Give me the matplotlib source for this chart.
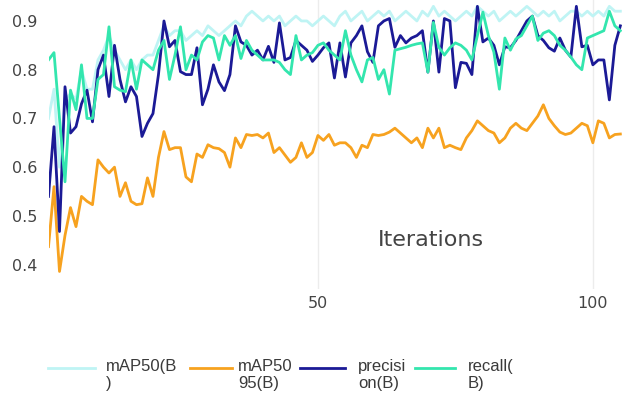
import numpy as np
import matplotlib.pyplot as plt
from matplotlib.lines import Line2D

# training metrics per iteration
iterations = np.arange(1, 106)

map50 = [0.70, 0.76, 0.60, 0.74, 0.75, 0.74, 0.80, 0.76, 0.76, 0.82,
         0.84, 0.87, 0.84, 0.82, 0.80, 0.82, 0.80, 0.82, 0.83, 0.83,
         0.86, 0.89, 0.87, 0.88, 0.88, 0.86, 0.87, 0.88, 0.87, 0.89,
         0.88, 0.87, 0.88, 0.89, 0.90, 0.89, 0.91, 0.92, 0.91, 0.90,
         0.91, 0.90, 0.91, 0.89, 0.90, 0.91, 0.90, 0.90, 0.89, 0.90,
         0.91, 0.90, 0.89, 0.91, 0.92, 0.90, 0.91, 0.92, 0.90, 0.91,
         0.92, 0.91, 0.92, 0.90, 0.91, 0.92, 0.91, 0.90, 0.92, 0.91,
         0.93, 0.91, 0.92, 0.91, 0.90, 0.91, 0.92, 0.91, 0.93, 0.92,
         0.91, 0.92, 0.90, 0.91, 0.92, 0.91, 0.92, 0.93, 0.92, 0.91,
         0.92, 0.91, 0.92, 0.90, 0.91, 0.92, 0.92, 0.91, 0.92, 0.91,
         0.92, 0.91, 0.93, 0.92, 0.92]

map50_95 = [0.437, 0.56, 0.386, 0.46, 0.517, 0.478, 0.54, 0.53, 0.523, 0.615,
            0.60, 0.588, 0.60, 0.54, 0.568, 0.53, 0.523, 0.525, 0.578, 0.54,
            0.62, 0.673, 0.636, 0.64, 0.64, 0.58, 0.57, 0.627, 0.62, 0.646,
            0.64, 0.638, 0.63, 0.60, 0.66, 0.64, 0.667, 0.665, 0.667, 0.66,
            0.67, 0.63, 0.64, 0.625, 0.61, 0.62, 0.65, 0.62, 0.63, 0.665,
            0.655, 0.667, 0.645, 0.65, 0.65, 0.64, 0.62, 0.645, 0.64, 0.667,
            0.665, 0.667, 0.672, 0.68, 0.67, 0.66, 0.65, 0.66, 0.64, 0.68,
            0.66, 0.68, 0.64, 0.645, 0.64, 0.636, 0.66, 0.675, 0.695, 0.685,
            0.675, 0.67, 0.65, 0.66, 0.68, 0.69, 0.68, 0.675, 0.69, 0.705,
            0.728, 0.70, 0.685, 0.672, 0.667, 0.67, 0.68, 0.69, 0.685, 0.65,
            0.695, 0.69, 0.66, 0.667, 0.668]

precision = [0.54, 0.683, 0.468, 0.765, 0.67, 0.683, 0.73, 0.758, 0.693, 0.80,
             0.83, 0.745, 0.85, 0.78, 0.734, 0.765, 0.745, 0.663, 0.69, 0.71,
             0.79, 0.90, 0.847, 0.86, 0.796, 0.79, 0.79, 0.845, 0.728, 0.76,
             0.81, 0.775, 0.757, 0.79, 0.89, 0.857, 0.85, 0.83, 0.84, 0.82,
             0.848, 0.815, 0.896, 0.82, 0.825, 0.86, 0.85, 0.84, 0.817, 0.83,
             0.845, 0.855, 0.783, 0.855, 0.785, 0.855, 0.87, 0.89, 0.837, 0.815,
             0.89, 0.90, 0.905, 0.846, 0.87, 0.855, 0.865, 0.87, 0.88, 0.795,
             0.90, 0.795, 0.905, 0.90, 0.763, 0.815, 0.813, 0.79, 0.93, 0.857,
             0.865, 0.85, 0.81, 0.847, 0.845, 0.86, 0.88, 0.90, 0.91, 0.87,
             0.86, 0.845, 0.838, 0.865, 0.84, 0.826, 0.93, 0.847, 0.85, 0.81,
             0.82, 0.82, 0.738, 0.85, 0.89]

recall = [0.82, 0.835, 0.70, 0.57, 0.758, 0.718, 0.81, 0.70, 0.70, 0.78,
          0.79, 0.888, 0.765, 0.758, 0.755, 0.82, 0.76, 0.82, 0.81, 0.80,
          0.84, 0.86, 0.78, 0.83, 0.888, 0.80, 0.83, 0.82, 0.857, 0.87,
          0.865, 0.82, 0.87, 0.85, 0.87, 0.823, 0.86, 0.84, 0.83, 0.82,
          0.82, 0.82, 0.815, 0.80, 0.79, 0.87, 0.82, 0.83, 0.835, 0.85,
          0.855, 0.84, 0.83, 0.82, 0.88, 0.83, 0.80, 0.775, 0.82, 0.825,
          0.78, 0.80, 0.75, 0.84, 0.843, 0.846, 0.85, 0.853, 0.855, 0.795,
          0.897, 0.846, 0.83, 0.845, 0.855, 0.85, 0.84, 0.82, 0.87, 0.918,
          0.87, 0.836, 0.76, 0.865, 0.84, 0.863, 0.87, 0.89, 0.91, 0.86,
          0.875, 0.88, 0.87, 0.85, 0.84, 0.826, 0.81, 0.80, 0.865, 0.87,
          0.875, 0.88, 0.92, 0.89, 0.88]

# legend labels wrap the same way the narrow legend columns do
series = [
    ("mAP50(B\n)", map50, "#bff4f4"),
    ("mAP50\n95(B)", map50_95, "#f7a21f"),
    ("precisi\non(B)", precision, "#1b1a96"),
    ("recall(\nB)", recall, "#33e6ae"),
]

W, H = 622, 408
fig = plt.figure(figsize=(W / 100, H / 100), dpi=100)
ax = fig.add_axes([48.5 / W, 1 - 289 / H, 1 - 48.5 / W, 289 / H])

for name, vals, col in series:
    ax.plot(iterations, vals, color=col, lw=2.0)

ax.set_xlim(1, 105.3)
ax.set_ylim(0.35, 0.943)
ax.set_xticks([50, 100])
ax.set_yticks([0.4, 0.5, 0.6, 0.7, 0.8, 0.9])
ax.tick_params(length=0, labelsize=11.5, labelcolor="#444444", pad=8)
ax.tick_params(axis="x", pad=5)
ax.grid(axis="x", color="#ececec", lw=1)
ax.set_axisbelow(True)
for s in ax.spines.values():
    s.set_visible(False)

# axis title sits inside the plot area
fig.text(431 / W, 1 - 240 / H, "Iterations", fontsize=16, color="#444444",
         ha="center", va="center")

# legend row under the plot: (line start, line end, text x) in pixels
legend_x = [(48, 95, 106), (190, 232, 238), (300, 345, 358), (415, 455, 468)]
for (x0, x1, tx), (name, vals, col) in zip(legend_x, series):
    fig.add_artist(Line2D([x0 / W, x1 / W], [1 - 368 / H] * 2,
                          color=col, lw=2.0, transform=fig.transFigure))
    fig.text(tx / W, 1 - 359 / H, name, fontsize=12, color="#3a3a3a",
             family="Liberation Sans", ha="left", va="top", linespacing=1.15)

fig.savefig("out.png", dpi=100)
